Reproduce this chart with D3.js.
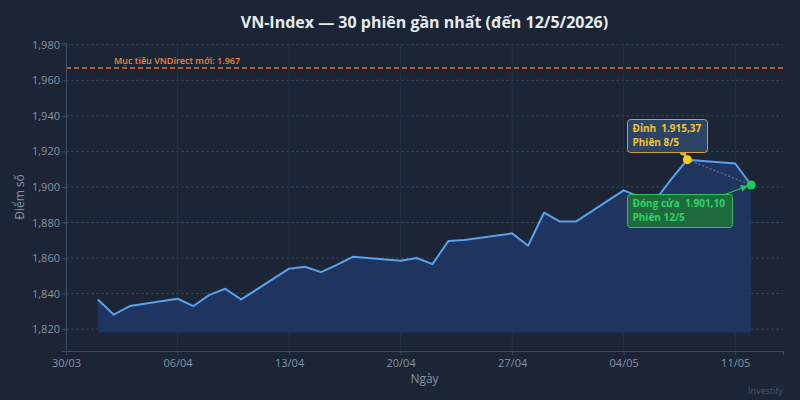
<!DOCTYPE html>
<html>
<head>
<meta charset="utf-8">
<script src="https://cdn.jsdelivr.net/npm/d3@7/dist/d3.min.js"></script>
<style>
  html, body { margin: 0; padding: 0; background: #1b2535; }
  svg { display: block; font-family: "Open Sans", "Noto Sans", sans-serif; }
</style>
</head>
<body>
<svg id="chart" width="800" height="400"></svg>
<script>
// data: 30 sessions
const dates = [
  '2026-04-01', '2026-04-02', '2026-04-03',
  '2026-04-06', '2026-04-07', '2026-04-08', '2026-04-09', '2026-04-10',
  '2026-04-13', '2026-04-14', '2026-04-15', '2026-04-16', '2026-04-17',
  '2026-04-20', '2026-04-21', '2026-04-22', '2026-04-23', '2026-04-24',
  '2026-04-27', '2026-04-28', '2026-04-29', '2026-04-30', '2026-05-01',
  '2026-05-04', '2026-05-05', '2026-05-06', '2026-05-07', '2026-05-08',
  '2026-05-11', '2026-05-12',
];
const closes = [
  1836.7, 1828.1, 1833.0,
  1837.1, 1833.0, 1839.3, 1842.7, 1836.7,
  1854.0, 1855.1, 1852.1, 1856.2, 1860.7,
  1858.5, 1860.0, 1856.6, 1869.6, 1870.1,
  1873.9, 1866.9, 1885.5, 1880.5, 1880.5,
  1898.1, 1894.4, 1892.7, 1904.5, 1915.37,
  1913.2, 1901.10,
];
const yTicks = [1820, 1840, 1860, 1880, 1900, 1920, 1940, 1960, 1980];
const target = 1967;
const targetLabel = 'Mục tiêu VNDirect mới: 1.967';
const peakLines = ['Đỉnh  1.915,37', 'Phiên 8/5'];
const closeLines = ['Đóng cửa  1.901,10', 'Phiên 12/5'];

const width = 800;
const height = 400;
const margin = { top: 43, right: 17, bottom: 49, left: 66 };

const parse = d3.timeParse('%Y-%m-%d');
const data = dates.map((d, i) => ({ date: parse(d), value: closes[i] }));

const svg = d3.select('#chart');

const x = d3.scaleTime()
  .domain([d3.timeDay.offset(data[0].date, -2), d3.timeDay.offset(data[data.length - 1].date, 2)])
  .range([margin.left, width - margin.right]);

const y = d3.scaleLinear()
  .domain([1807.7, 1981])
  .range([height - margin.bottom, margin.top]);

const baseline = d3.min(closes) - 10;

// gridlines
const weekTicks = d3.timeMonday.range(x.domain()[0], x.domain()[1]);

svg.append('g')
  .selectAll('line')
  .data(yTicks)
  .join('line')
  .attr('x1', margin.left)
  .attr('x2', width - margin.right)
  .attr('y1', (d) => y(d))
  .attr('y2', (d) => y(d))
  .attr('stroke', '#34435a')
  .attr('stroke-width', 1)
  .attr('stroke-dasharray', '3,2');

svg.append('g')
  .selectAll('line')
  .data(weekTicks)
  .join('line')
  .attr('x1', (d) => x(d))
  .attr('x2', (d) => x(d))
  .attr('y1', margin.top)
  .attr('y2', height - margin.bottom)
  .attr('stroke', '#243145')
  .attr('stroke-width', 1);

// area + line
const area = d3.area()
  .x((d) => x(d.date))
  .y0(y(baseline))
  .y1((d) => y(d.value));

svg.append('path')
  .datum(data)
  .attr('d', area)
  .attr('fill', '#203562')
  .attr('fill-opacity', 0.92);

const line = d3.line()
  .x((d) => x(d.date))
  .y((d) => y(d.value));

svg.append('path')
  .datum(data)
  .attr('d', line)
  .attr('fill', 'none')
  .attr('stroke', '#5aa2ec')
  .attr('stroke-width', 2)
  .attr('stroke-linejoin', 'round');

// target line
svg.append('line')
  .attr('x1', margin.left)
  .attr('x2', width - margin.right)
  .attr('y1', y(target))
  .attr('y2', y(target))
  .attr('stroke', '#e0733a')
  .attr('stroke-width', 1.5)
  .attr('stroke-dasharray', '5,3');

svg.append('text')
  .attr('x', 114)
  .attr('y', y(target) - 4)
  .attr('fill', '#f0843c')
  .attr('font-size', 9)
  .attr('font-weight', 600)
  .text(targetLabel);

// axes
const xAxis = d3.axisBottom(x)
  .tickValues(weekTicks)
  .tickFormat(d3.timeFormat('%d/%m'))
  .tickSize(4);

const gx = svg.append('g')
  .attr('transform', `translate(0,${height - margin.bottom})`)
  .call(xAxis);

const yAxis = d3.axisLeft(y)
  .tickValues(yTicks)
  .tickFormat(d3.format(','))
  .tickSize(4);

const gy = svg.append('g')
  .attr('transform', `translate(${margin.left},0)`)
  .call(yAxis);

[gx, gy].forEach((g) => {
  g.select('.domain').attr('stroke', '#3d4b60');
  g.selectAll('.tick line').attr('stroke', '#3d4b60');
  g.selectAll('.tick text')
    .attr('fill', '#8593a6')
    .attr('font-size', 11)
    .attr('font-family', '"Open Sans", sans-serif');
});
gy.selectAll('.tick text').attr('x', -6);
gx.selectAll('.tick text').attr('y', 8);

// labels
svg.append('text')
  .attr('x', (margin.left + width - margin.right) / 2)
  .attr('y', 28)
  .attr('text-anchor', 'middle')
  .attr('fill', '#e6ebf2')
  .attr('font-size', 16)
  .attr('font-weight', 700)
  .text('VN-Index — 30 phiên gần nhất (đến 12/5/2026)');

svg.append('text')
  .attr('transform', `translate(24,${(margin.top + height - margin.bottom) / 2}) rotate(-90)`)
  .attr('text-anchor', 'middle')
  .attr('fill', '#8593a6')
  .attr('font-size', 12)
  .text('Điểm số');

svg.append('text')
  .attr('x', (margin.left + width - margin.right) / 2)
  .attr('y', 383)
  .attr('text-anchor', 'middle')
  .attr('fill', '#8593a6')
  .attr('font-size', 12)
  .text('Ngày');

svg.append('text')
  .attr('x', width - margin.right)
  .attr('y', 394)
  .attr('text-anchor', 'end')
  .attr('fill', '#4b586b')
  .attr('font-size', 9)
  .text('Investify');

// annotations
const peak = data[27];
const last = data[data.length - 1];

const defs = svg.append('defs');
[['arrow-y', '#eab308'], ['arrow-g', '#22c55e']].forEach(([id, c]) => {
  defs.append('marker')
    .attr('id', id)
    .attr('viewBox', '0 -5 10 10')
    .attr('refX', 9)
    .attr('refY', 0)
    .attr('orient', 'auto')
    .attr('markerWidth', 6)
    .attr('markerHeight', 6)
    .append('path')
    .attr('d', 'M0,-5L10,0L0,5')
    .attr('fill', c);
});

// dashed link peak -> close
svg.append('line')
  .attr('x1', x(peak.date))
  .attr('y1', y(peak.value))
  .attr('x2', x(last.date))
  .attr('y2', y(last.value))
  .attr('stroke', '#c8d0dc')
  .attr('stroke-opacity', 0.6)
  .attr('stroke-width', 0.8)
  .attr('stroke-dasharray', '2,2');

function callout(lines, bx, by, bw, bh, fill, stroke, textColor, marker, ax0, ay0, ax1, ay1) {
  svg.append('line')
    .attr('x1', ax0).attr('y1', ay0)
    .attr('x2', ax1).attr('y2', ay1)
    .attr('stroke', stroke)
    .attr('stroke-width', 1.2)
    .attr('marker-end', `url(#${marker})`);
  svg.append('rect')
    .attr('x', bx).attr('y', by)
    .attr('width', bw).attr('height', bh)
    .attr('rx', 3)
    .attr('fill', fill)
    .attr('stroke', stroke)
    .attr('stroke-width', 1);
  // one text per line so the two rows stay separate
  lines.forEach((s, i) => {
    svg.append('text')
      .attr('x', bx + 5)
      .attr('y', by + 12.5 + i * 13.8)
      .attr('fill', textColor)
      .attr('font-size', 10)
      .attr('font-weight', 700)
      .attr('xml:space', 'preserve')
      .text(s);
  });
}

callout(peakLines, 627.5, 119.5, 80, 33, '#2c4466', '#c9a230', '#f4c430', 'arrow-y',
  683, 152.5, x(peak.date) - 1, y(peak.value) - 3);
callout(closeLines, 627.5, 194.5, 105, 33, '#1d6a3c', '#22c55e', '#2fd36a', 'arrow-g',
  725, 194.5, x(last.date) - 4, y(last.value) + 1);

svg.append('circle')
  .attr('cx', x(peak.date))
  .attr('cy', y(peak.value))
  .attr('r', 4.5)
  .attr('fill', '#facc15');

svg.append('circle')
  .attr('cx', x(last.date))
  .attr('cy', y(last.value))
  .attr('r', 4.5)
  .attr('fill', '#22c55e');
</script>
</body>
</html>
